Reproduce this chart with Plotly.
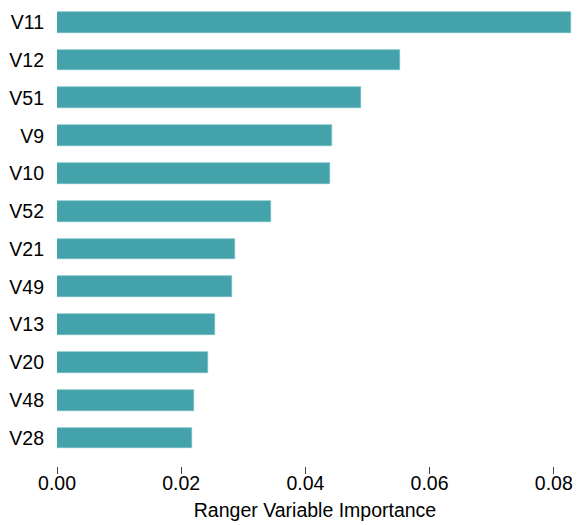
import plotly.graph_objects as go

variables = ["V11", "V12", "V51", "V9", "V10", "V52", "V21", "V49", "V13", "V20", "V48", "V28"]
importance = [0.0827, 0.0552, 0.0490, 0.0443, 0.0440, 0.0344, 0.0286, 0.0282, 0.0254, 0.0243, 0.0220, 0.0218]
x_ticks = [0.00, 0.02, 0.04, 0.06, 0.08]
x_ticklabels = ["0.00", "0.02", "0.04", "0.06", "0.08"]

fig = go.Figure(go.Bar(
    x=importance,
    y=variables,
    orientation="h",
    width=0.55,
    marker=dict(color="#44A3AA", line=dict(color="#6CBCC2", width=0.6)),
))

fig.update_layout(
    width=585, height=525,
    margin=dict(l=57, r=12, t=0, b=59),
    paper_bgcolor="white", plot_bgcolor="white",
    font=dict(family="Liberation Sans, Arial, sans-serif", size=19.5, color="black"),
    showlegend=False,
    bargap=0,
)
fig.update_xaxes(
    range=[0, 0.0831],
    tickvals=x_ticks, ticktext=x_ticklabels,
    ticks="outside", ticklen=7, tickcolor="#444444", tickwidth=1,
    ticklabelstandoff=-7,
    showgrid=False, zeroline=False, showline=False,
    title=dict(text="Ranger Variable Importance", standoff=9, font=dict(size=19.5)),
    tickfont=dict(size=19.5),
    automargin=False,
)
fig.update_yaxes(
    categoryorder="array", categoryarray=variables[::-1],
    range=[-0.74, 11.59],
    showgrid=False, zeroline=False, showline=False, ticks="",
    ticklabelstandoff=12,
    tickfont=dict(size=19.5),
    automargin=False,
)

fig.write_html("out.html", config={"displayModeBar": False},
               post_script="document.body.style.margin='0';")
